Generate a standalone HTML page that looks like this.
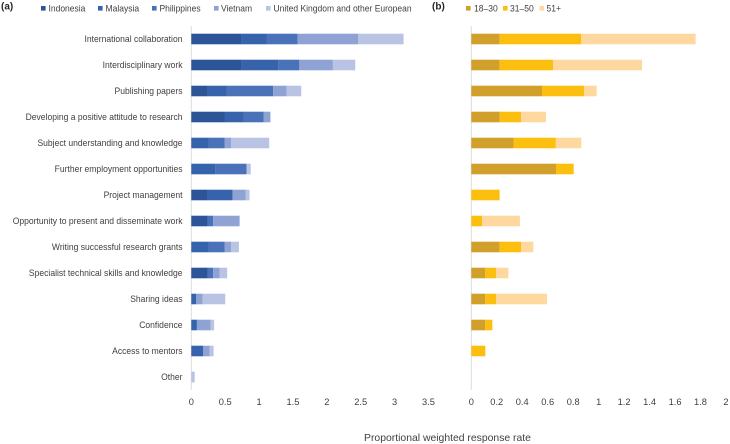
<!DOCTYPE html>
<html lang="en">
<head>
<meta charset="utf-8">
<title>Proportional weighted response rate</title>
<style>
html,body{margin:0;padding:0;background:#fff;}
body{width:730px;height:444px;overflow:hidden;}
svg{display:block;font-family:"Liberation Sans",sans-serif;fill:#404040;filter:blur(0.35px);}
text{font-size:9.3px;}
</style>
</head>
<body>
<svg id="chart" xmlns="http://www.w3.org/2000/svg" width="730" height="444" viewBox="0 0 730 444"></svg>
<script>
const categories = ["International collaboration","Interdisciplinary work","Publishing papers","Developing a positive attitude to research","Subject understanding and knowledge","Further employment opportunities","Project management","Opportunity to present and disseminate work","Writing successful research grants","Specialist technical skills and knowledge","Sharing ideas","Confidence","Access to mentors","Other"];

const countryNames = ["Indonesia","Malaysia","Philippines","Vietnam","United Kingdom and other European"];
const indonesia = [0.74,0.74,0.24,0.49,0,0,0.24,0.24,0,0.24,0,0,0,0];
const malaysia = [0.37,0.545,0.28,0.28,0.26,0.36,0.37,0,0.26,0,0.074,0.083,0.177,0];
const philippines = [0.457,0.31,0.687,0.30,0.23,0.457,0,0.083,0.23,0.083,0,0,0,0];
const vietnam = [0.898,0.495,0.2,0.098,0.10,0,0.19,0.39,0.10,0.093,0.093,0.2,0.093,0];
const ukEuropean = [0.668,0.33,0.216,0,0.56,0.06,0.06,0,0.113,0.113,0.334,0.054,0.059,0.05];

const ageNames = ["18–30","31–50","51+"];
const age18to30 = [0.2225,0.2225,0.555,0.2225,0.332,0.665,0,0,0.2225,0.11,0.11,0.11,0,0];
const age31to50 = [0.639,0.419,0.332,0.168,0.332,0.139,0.2225,0.084,0.168,0.084,0.084,0.055,0.11,0];
const age51plus = [0.9,0.699,0.097,0.196,0.2,0,0,0.298,0.097,0.097,0.4,0,0,0];

const leftTicks = ["0","0.5","1","1.5","2","2.5","3","3.5"];
const rightTicks = ["0","0.2","0.4","0.6","0.8","1","1.2","1.4","1.6","1.8","2"];

const NS = "http://www.w3.org/2000/svg";
const svg = document.getElementById("chart");
const leftX = v => 191.3 + v * 67.75;
const rightX = v => 471.3 + v * 127.35;
const rowY = i => 39 + i * 26;
const BAR_H = 10.6;

function shape(tag, props, text) {
  const el = document.createElementNS(NS, tag);
  for (const k in props) el.setAttribute(k, props[k]);
  if (text !== undefined) el.textContent = text;
  svg.appendChild(el);
  return el;
}

function slug(s) {
  return s.toLowerCase().replace(/[^a-z0-9]+/g, "-").replace(/^-|-$/g, "");
}

function squeeze(el, factor) {
  el.setAttribute("textLength", (el.getComputedTextLength() * factor).toFixed(2));
  el.setAttribute("lengthAdjust", "spacingAndGlyphs");
}

function drawPanel(series, names, colors, xFn, ticks, panel) {
  const axis = shape("line", {x1: xFn(0), x2: xFn(0), y1: 26, y2: 390, stroke: "#dcdcdc", "stroke-width": 1});
  
  
  categories.forEach((c, i) => {
    let sum = 0;
    series.forEach((vals, s) => {
      const v = vals[i];
      if (v > 0) {
        const bar = shape("rect", {x: xFn(sum), y: rowY(i) - BAR_H / 2, width: xFn(sum + v) - xFn(sum), height: BAR_H, fill: colors[s]});
        
        
      }
      sum += v;
    });
  });
  ticks.forEach(t => {
    const tick = shape("text", {x: xFn(parseFloat(t)), y: 405, "text-anchor": "middle"}, t);
    
    
  });
}

const blues = ["#2c5597","#3763ad","#4a72b8","#8fa2d4","#b9c4e4"];
const golds = ["#d0a02a","#fdbf0f","#ffd89f"];

drawPanel([indonesia, malaysia, philippines, vietnam, ukEuropean], countryNames, blues, leftX, leftTicks, "panel-a");
drawPanel([age18to30, age31to50, age51plus], ageNames, golds, rightX, rightTicks, "panel-b");

categories.forEach((c, i) => {
  const label = shape("text", {x: 182.5, y: rowY(i) + 3.2, "text-anchor": "end"}, c);
  
  
  squeeze(label, 0.92);
});

const legendSwatchX = [41, 98, 152, 214, 266];
const legendTextX = [48.5, 105.5, 159.5, 221, 273.5];
countryNames.forEach((n, i) => {
  const sw = shape("rect", {x: legendSwatchX[i], y: 6, width: 4.6, height: 4.6, fill: blues[i]});
  
  
  const tx = shape("text", {x: legendTextX[i], y: 11.5}, n);
  
  
  squeeze(tx, 0.915);
});

const ageSwatchX = [466, 503, 539.5];
const ageTextX = [474, 510, 546.5];
ageNames.forEach((n, i) => {
  const sw = shape("rect", {x: ageSwatchX[i], y: 6, width: 4.6, height: 4.6, fill: golds[i]});
  
  
  const tx = shape("text", {x: ageTextX[i], y: 11.5}, n);
  
  
  squeeze(tx, 0.92);
});

const panelA = shape("text", {x: 1, y: 9.5, style: "font-size:10px;font-weight:bold;fill:#262626"}, "(a)");



const panelB = shape("text", {x: 432, y: 9.5, style: "font-size:10px;font-weight:bold;fill:#262626"}, "(b)");



const xTitle = shape("text", {x: 447.5, y: 441, "text-anchor": "middle", style: "font-size:10.4px"}, "Proportional weighted response rate");


</script>
</body>
</html>
